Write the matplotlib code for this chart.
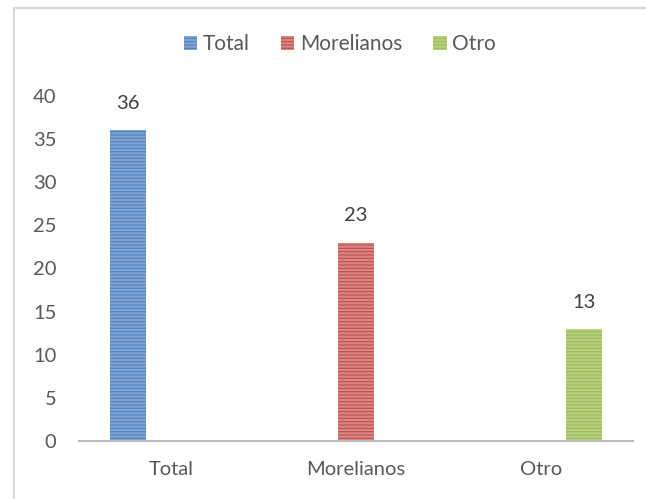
import matplotlib.pyplot as plt
from matplotlib.lines import Line2D

categories = ['Total', 'Morelianos', 'Otro']
series = ['Total', 'Morelianos', 'Otro']
values = [36, 23, 13]
colors = ['#4F81BD', '#C0504D', '#9BBB59']
faces = ['#7FA3D3', '#D98583', '#B7D17F']

plt.rcParams['font.family'] = ['Lato', 'DejaVu Sans']
plt.rcParams['hatch.linewidth'] = 0.8

fig = plt.figure(figsize=(6.46, 4.99), dpi=100)
ax = fig.add_axes([0.122, 0.116, 0.858, 0.692])

# each series only has a value in its own category
offsets = [-0.233, 0.0, 0.233]
for i, (name, v) in enumerate(zip(series, values)):
    x = i + offsets[i]
    ax.bar(x, v, width=0.195, color=faces[i], edgecolor=colors[i],
           hatch='-----', linewidth=0, label=name)
    ax.text(x, v + 2.1, str(v), ha='center', va='bottom', fontsize=14.5, color='#404040')

ax.set_xlim(-0.5, 2.5)
ax.set_ylim(0, 40)
ax.set_yticks(range(0, 41, 5))
ax.set_xticks(range(3))
ax.set_xticklabels(categories)
ax.tick_params(length=0, labelsize=14.5, colors='#595959', pad=14)
ax.tick_params(axis='y', pad=16)
for s in ['top', 'right', 'left']:
    ax.spines[s].set_visible(False)
ax.spines['bottom'].set_color('#BFBFBF')
ax.spines['bottom'].set_linewidth(1.5)

ax.legend(loc='center', bbox_to_anchor=(0.471, 1.15), ncol=3, frameon=False,
          fontsize=15, handlelength=0.65, handleheight=0.65, handletextpad=0.25,
          columnspacing=1.5, labelcolor='#595959')

# outer chart border
fig.add_artist(Line2D([0.022, 0.022], [0.0, 0.984], color='#D9D9D9', lw=1.5))
fig.add_artist(Line2D([0.022, 1.0], [0.984, 0.984], color='#D9D9D9', lw=1.5))

fig.savefig('out.png', dpi=100)
